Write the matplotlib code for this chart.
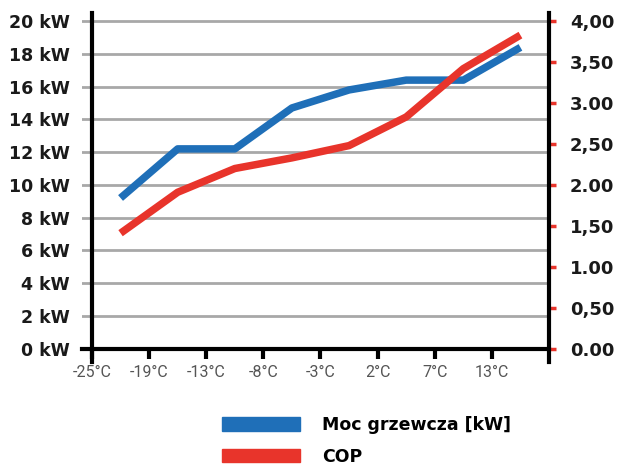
import matplotlib
matplotlib.use("Agg")
import matplotlib.pyplot as plt
from matplotlib.patches import Patch

temps = ["-25°C", "-19°C", "-13°C", "-8°C", "-3°C", "2°C", "7°C", "13°C"]
power = [9.2, 12.2, 12.2, 14.7, 15.8, 16.4, 16.4, 18.4]
cop = [1.41, 1.91, 2.20, 2.33, 2.48, 2.83, 3.42, 3.83]
kw_ticks = [0, 2, 4, 6, 8, 10, 12, 14, 16, 18, 20]
kw_labels = ["%d kW" % v for v in kw_ticks]
cop_ticks = [0, 0.5, 1, 1.5, 2, 2.5, 3, 3.5, 4]
cop_labels = ["0.00", "0,50", "1.00", "1,50", "2.00", "2,50", "3.00", "3,50", "4,00"]

blue = "#1f6fb8"
red = "#e8342b"
grid = "#a8a8a8"

fig = plt.figure(figsize=(6.17, 4.68), dpi=100)
ax = fig.add_axes([82/617, (468-361.7)/468, 467/617, 348.7/468])
ax2 = ax.twinx()

xs = [i + 0.5 for i in range(len(power))]
ax.plot(xs, power, color=blue, lw=5.4, solid_capstyle="butt", zorder=3)
ax2.plot(xs, cop, color=red, lw=5.4, solid_capstyle="butt", zorder=3)

ax.set_xlim(-0.175, 8)
ax.set_ylim(-0.8, 20.5)
ax2.set_ylim(-0.8/5, 20.5/5)

for a in (ax, ax2):
    a.spines["top"].set_visible(False)
    a.spines["left"].set_position(("data", 0))
    a.spines["bottom"].set_position(("data", 0))
    for s in a.spines.values():
        s.set_linewidth(3)
        s.set_color("black")
ax2.spines["left"].set_visible(False)
ax2.spines["bottom"].set_visible(False)
ax.spines["right"].set_visible(False)

ax.set_yticks(kw_ticks)
ax.set_yticklabels(kw_labels, fontsize=12.5, fontweight="bold", color="#1a1a1a")
ax.tick_params(axis="y", length=0, pad=16)
ax.yaxis.grid(True, color=grid, lw=2)
ax.set_axisbelow(True)

ax.set_xticks(range(len(temps)))
ax.set_xticklabels(temps, fontsize=11.5, color="#555555", family="Roboto")
ax.tick_params(axis="x", length=7, width=3, color="black", pad=5)

ax2.set_yticks(cop_ticks)
ax2.set_yticklabels(cop_labels, fontsize=13, fontweight="bold", color="#1a1a1a")
ax2.tick_params(axis="y", length=5, width=2.5, color=red, pad=10)

handles = [Patch(color=blue), Patch(color=red)]
fig.legend(handles, ["Moc grzewcza [kW]", "COP"], loc="upper left",
           bbox_to_anchor=(222/617, 1-416/468), frameon=False,
           prop={"weight": "bold", "size": 12.5}, handlelength=4.5,
           handleheight=0.8, handletextpad=1.25, labelspacing=0.8,
           borderpad=0, borderaxespad=0)

fig.savefig("out.png", dpi=100)
